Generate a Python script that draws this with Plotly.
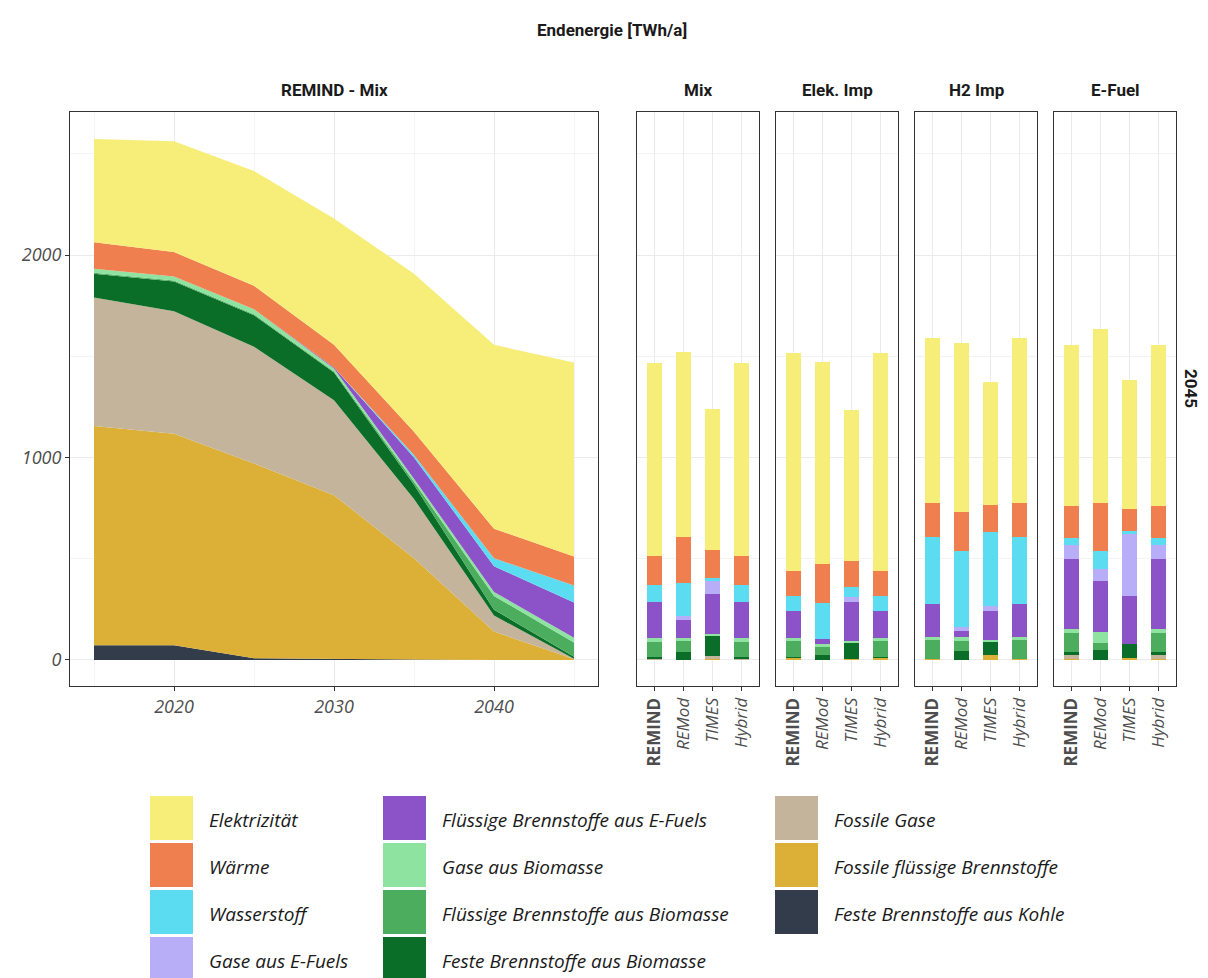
import plotly.graph_objects as go

# ---------------- data ----------------
years = [2015, 2020, 2025, 2030, 2035, 2040, 2045]

# stacking order bottom -> top
series_names = [
    "Feste Brennstoffe aus Kohle",
    "Fossile flüssige Brennstoffe",
    "Fossile Gase",
    "Feste Brennstoffe aus Biomasse",
    "Flüssige Brennstoffe aus Biomasse",
    "Gase aus Biomasse",
    "Flüssige Brennstoffe aus E-Fuels",
    "Gase aus E-Fuels",
    "Wasserstoff",
    "Wärme",
    "Elektrizität",
]
series_colors = [
    "#323C4B", "#DCAF37", "#C3B49B", "#0A6E28", "#4CAD5E", "#8FE3A0",
    "#8C52C8", "#B8AEF7", "#5CDCF0", "#F07F4F", "#F7EE7A",
]

# REMIND - Mix time series (TWh/a)
area_kohle        = [72, 72, 8, 4, 2, 0, 0]
area_fossil_fl    = [1084, 1045, 962, 810, 500, 140, 4]
area_fossil_gas   = [635, 605, 577, 469, 293, 79, 2]
area_feste_bio    = [117, 147, 156, 137, 70, 29, 10]
area_fl_bio       = [5, 5, 5, 5, 15, 68, 70]
area_gas_bio      = [20, 20, 24, 15, 15, 20, 24]
area_fl_efuel     = [0, 0, 0, 5, 105, 127, 174]
area_gas_efuel    = [0, 0, 0, 0, 0, 0, 0]
area_wasserstoff  = [0, 0, 0, 0, 12, 39, 84]
area_waerme       = [130, 121, 117, 112, 115, 146, 143]
area_elektrizitaet = [510, 547, 567, 624, 781, 909, 958]

area_series = [area_kohle, area_fossil_fl, area_fossil_gas, area_feste_bio,
               area_fl_bio, area_gas_bio, area_fl_efuel, area_gas_efuel,
               area_wasserstoff, area_waerme, area_elektrizitaet]

models = ["REMIND", "REMod", "TIMES", "Hybrid"]
model_labels = ["<b>REMIND</b>", "<i>REMod</i>", "<i>TIMES</i>", "<i>Hybrid</i>"]
scenarios = ["Mix", "Elek. Imp", "H2 Imp", "E-Fuel"]
bar_year = "2045"

# 2045 values per model, in stacking order (bottom -> top)
mix_remind  = [0, 4, 2, 10, 70, 24, 174, 0, 84, 143, 958]
mix_remod   = [0, 0, 0, 41, 50, 19, 88, 20, 162, 225, 918]
mix_times   = [0, 5, 15, 100, 0, 9, 198, 61, 16, 141, 693]
mix_hybrid  = [0, 4, 2, 10, 70, 24, 174, 0, 84, 143, 958]

elek_remind = [0, 10, 0, 3, 78, 16, 137, 0, 74, 119, 1081]
elek_remod  = [0, 0, 0, 25, 41, 13, 23, 0, 179, 194, 997]
elek_times  = [0, 5, 0, 80, 0, 6, 195, 27, 45, 129, 747]
elek_hybrid = [0, 10, 0, 3, 78, 16, 137, 0, 74, 119, 1081]

h2_remind   = [0, 3, 0, 0, 93, 19, 161, 0, 329, 171, 816]
h2_remod    = [0, 0, 0, 45, 46, 24, 30, 17, 378, 191, 836]
h2_times    = [0, 25, 0, 65, 0, 6, 148, 23, 363, 137, 604]
h2_hybrid   = [0, 3, 0, 0, 93, 19, 161, 0, 329, 171, 816]

efuel_remind = [0, 5, 20, 16, 91, 20, 346, 71, 33, 160, 796]
efuel_remod  = [0, 0, 0, 50, 35, 55, 248, 61, 91, 236, 861]
efuel_times  = [0, 8, 0, 71, 0, 0, 238, 305, 13, 111, 638]
efuel_hybrid = [0, 5, 20, 16, 91, 20, 346, 71, 33, 160, 796]

scenario_bars = [
    [mix_remind, mix_remod, mix_times, mix_hybrid],
    [elek_remind, elek_remod, elek_times, elek_hybrid],
    [h2_remind, h2_remod, h2_times, h2_hybrid],
    [efuel_remind, efuel_remod, efuel_times, efuel_hybrid],
]

# legend order (column-major as in reference)
legend_order = [
    "Elektrizität", "Wärme", "Wasserstoff", "Gase aus E-Fuels",
    "Flüssige Brennstoffe aus E-Fuels", "Gase aus Biomasse",
    "Flüssige Brennstoffe aus Biomasse", "Feste Brennstoffe aus Biomasse",
    "Fossile Gase", "Fossile flüssige Brennstoffe", "Feste Brennstoffe aus Kohle",
]

# ---------------- layout helpers ----------------
# the page body has an 8px margin, so the figure starts at (8, 8)
OFF = 8
W, H = 1200, 970
def px(x):
    return (x - OFF) / W
def py(y):
    return 1 - (y - OFF) / H

Y_RANGE = [-129, 2707]
y_dom = [py(686), py(112)]
GRID = "#EBEBEB"
MINOR = "#F4F4F4"
LINE = "#333333"
TICKFONT = dict(family="Open Sans", size=18, color="#4D4D4D", style="italic")
STRIPFONT = dict(family="Roboto", size=17, color="#1A1A1A", weight="bold")

fig = go.Figure()

# ---- area chart ----
for name, color, vals in zip(series_names, series_colors, area_series):
    fig.add_trace(go.Scatter(
        x=years, y=vals, name=name, stackgroup="area",
        mode="lines", line=dict(width=0, color=color),
        fillcolor=color, showlegend=False, xaxis="x", yaxis="y",
        hoverinfo="x+y+name",
    ))

# ---- bar panels ----
for si, bars in enumerate(scenario_bars):
    ax = str(si + 2)
    for k, (name, color) in enumerate(zip(series_names, series_colors)):
        fig.add_trace(go.Bar(
            x=models, y=[bars[m][k] for m in range(4)], name=name,
            marker=dict(color=color, line=dict(width=0)), width=0.5,
            showlegend=False, xaxis="x" + ax, yaxis="y" + ax,
        ))

x_domains = [
    [px(70), px(598)],
    [px(637), px(759)],
    [px(776), px(898)],
    [px(915), px(1037)],
    [px(1054), px(1176)],
]

layout = dict(
    width=W, height=H,
    margin=dict(l=0, r=0, t=0, b=0),
    paper_bgcolor="white", plot_bgcolor="white",
    barmode="stack", bargap=0.5,
    showlegend=False,
    font=dict(family="Open Sans", color="#333333"),
)

common_axis = dict(
    showline=True, mirror=True, linecolor=LINE, linewidth=1,
    zeroline=False, gridcolor=GRID, gridwidth=1,
)

layout["xaxis"] = dict(
    common_axis, domain=x_domains[0], anchor="y",
    range=[2013.5, 2046.5], tick0=2000, dtick=10,
    showgrid=True, ticks="outside", ticklen=4, tickcolor=LINE,
    tickfont=TICKFONT,
    minor=dict(dtick=5, tick0=2000, showgrid=True, gridcolor=MINOR, gridwidth=1, ticks=""),
)
layout["yaxis"] = dict(
    common_axis, domain=y_dom, anchor="x",
    range=Y_RANGE, tick0=0, dtick=1000,
    showgrid=True, ticks="outside", ticklen=4, tickcolor=LINE,
    tickfont=TICKFONT,
    minor=dict(dtick=500, tick0=0, showgrid=True, gridcolor=MINOR, gridwidth=1, ticks=""),
)

for si in range(4):
    ax = str(si + 2)
    layout["xaxis" + ax] = dict(
        common_axis, domain=x_domains[si + 1], anchor="y" + ax,
        type="category", categoryorder="array", categoryarray=models,
        range=[-0.6, 3.6], showgrid=True,
        tickvals=models, ticktext=model_labels, tickangle=-90,
        ticks="outside", ticklen=4, tickcolor=LINE,
        tickfont=dict(family="Open Sans", size=17, color="#4D4D4D"),
    )
    layout["yaxis" + ax] = dict(
        common_axis, domain=y_dom, anchor="x" + ax,
        range=Y_RANGE, tick0=0, dtick=1000, showgrid=True,
        showticklabels=False, ticks="",
        minor=dict(dtick=500, tick0=0, showgrid=True, gridcolor=MINOR, gridwidth=1, ticks=""),
    )

fig.update_layout(**layout)

annotations = []
# title
annotations.append(dict(
    text="Endenergie [TWh/a]", x=px(612), y=py(30), xref="paper", yref="paper",
    showarrow=False, xanchor="center", yanchor="middle",
    font=dict(family="Roboto", size=17, color="#1A1A1A", weight="bold"),
))
# strip titles
strip_titles = ["REMIND - Mix"] + scenarios
for t, dom in zip(strip_titles, x_domains):
    annotations.append(dict(
        text=t, x=(dom[0] + dom[1]) / 2, y=py(90), xref="paper", yref="paper",
        showarrow=False, xanchor="center", yanchor="middle", font=STRIPFONT,
    ))
# right strip
annotations.append(dict(
    text=bar_year, x=px(1191), y=py(388), xref="paper", yref="paper",
    showarrow=False, xanchor="center", yanchor="middle", textangle=90,
    font=STRIPFONT,
))

# custom legend with large keys
shapes = []
color_of = dict(zip(series_names, series_colors))
col_x = [150, 383, 775]
row_top = [796, 843, 890, 937]
for i, name in enumerate(legend_order):
    c, r = divmod(i, 4)
    x0 = col_x[c]
    y0 = row_top[r]
    shapes.append(dict(
        type="rect", xref="paper", yref="paper",
        x0=px(x0), x1=px(x0 + 43), y0=py(y0 + 44), y1=py(y0),
        fillcolor=color_of[name], line=dict(width=0),
    ))
    annotations.append(dict(
        text=name, x=px(x0 + 57), y=py(y0 + 24), xref="paper", yref="paper",
        showarrow=False, xanchor="left", yanchor="middle",
        font=dict(family="Open Sans", size=19, color="#1A1A1A", style="italic"),
    ))

fig.update_layout(annotations=annotations, shapes=shapes)

fig.write_html("out.html")
